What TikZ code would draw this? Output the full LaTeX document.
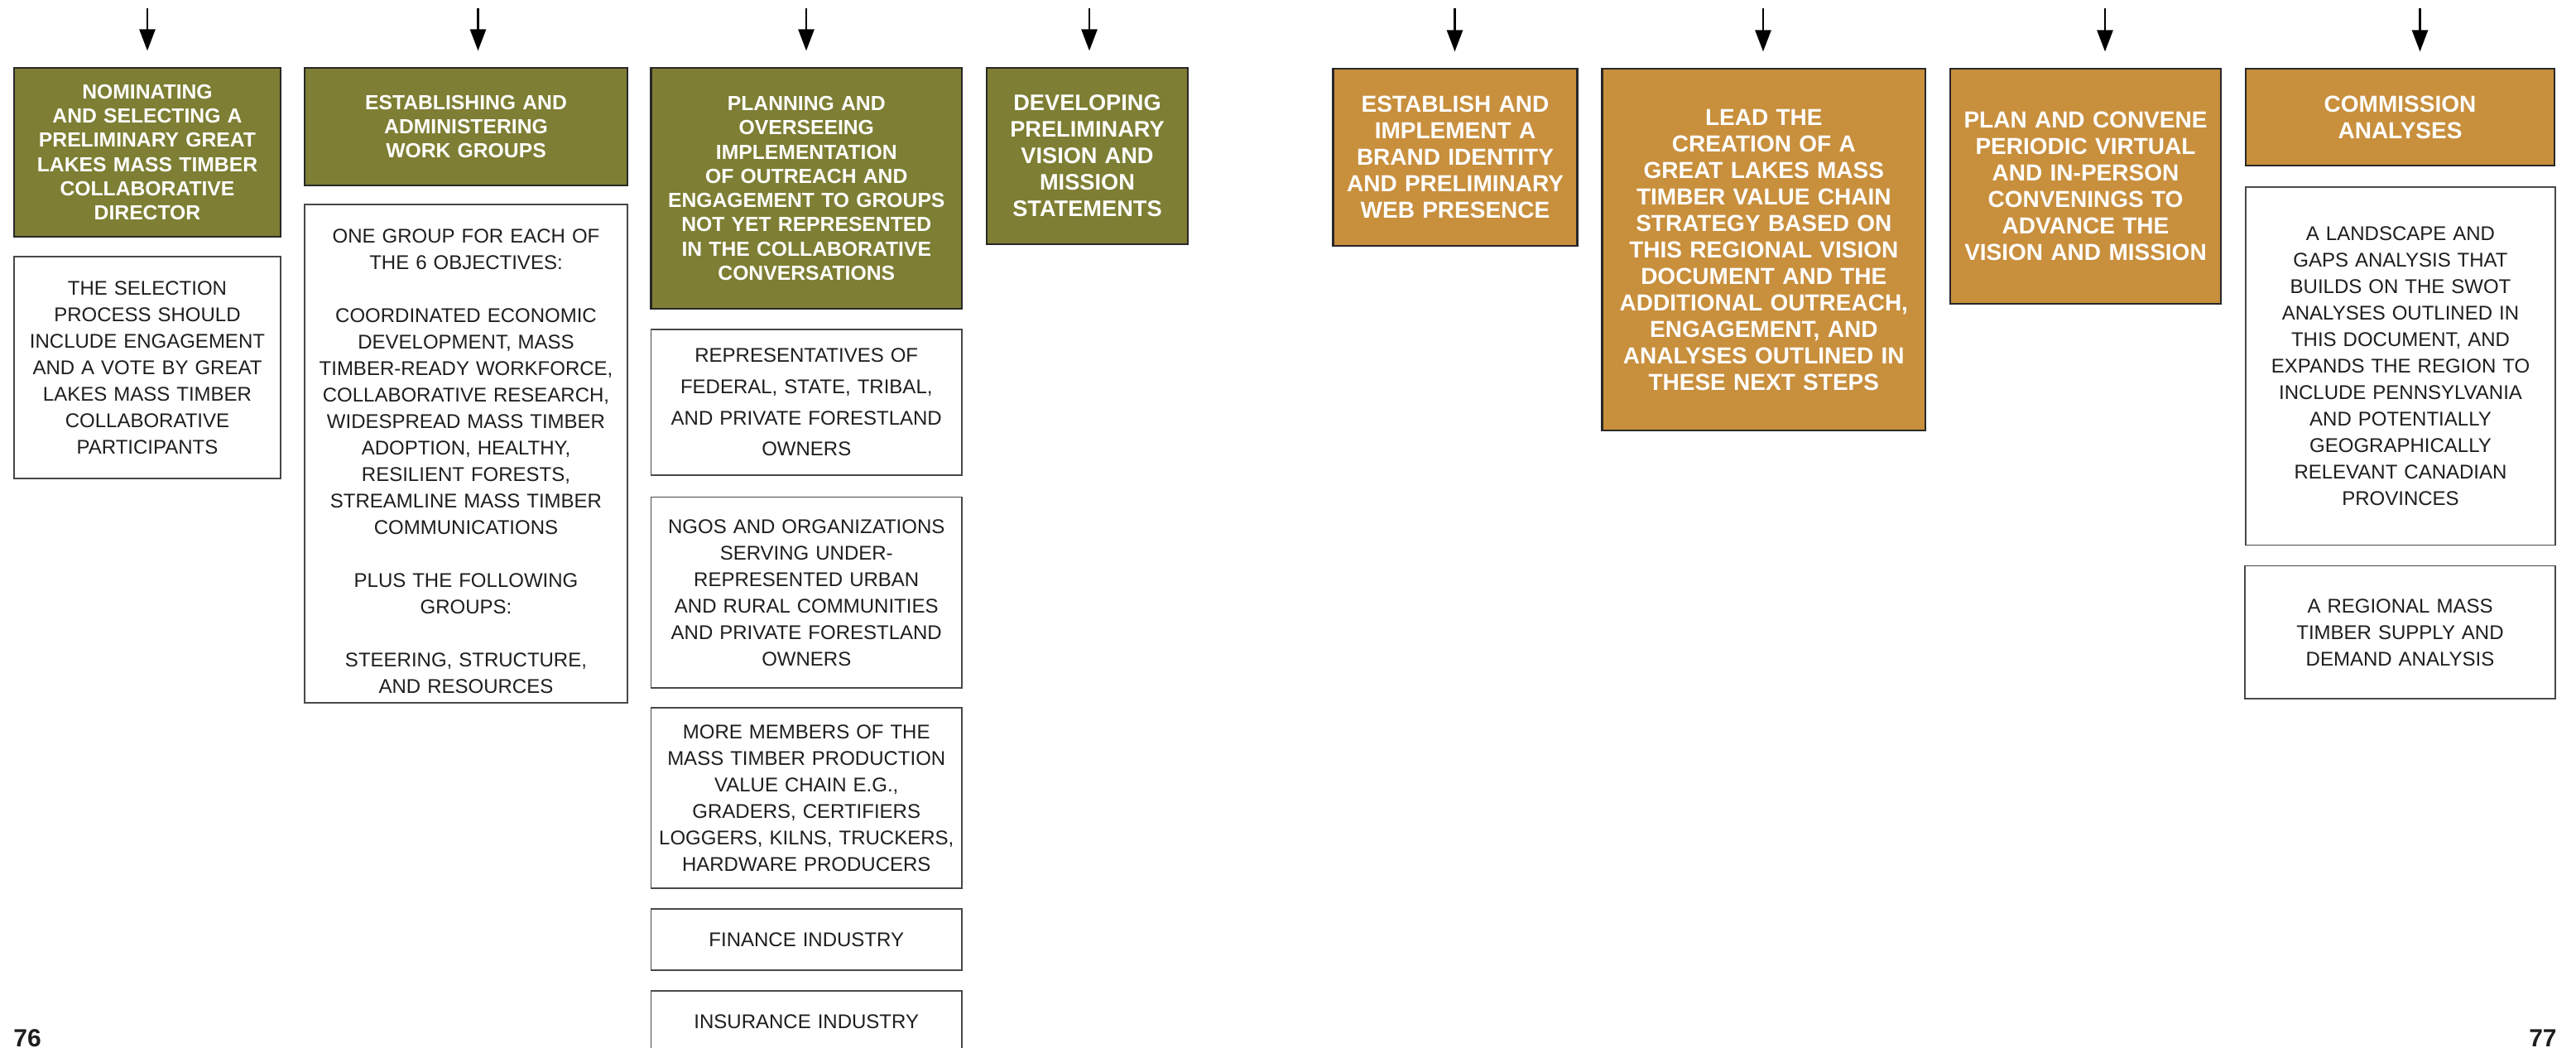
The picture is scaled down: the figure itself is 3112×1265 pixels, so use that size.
\documentclass[tikz,border=0pt]{standalone}
\usepackage{fontspec}
\setmainfont{Liberation Sans}
\usetikzlibrary{arrows.meta}
\definecolor{olivebox}{RGB}{126,126,52}
\definecolor{ochrebox}{RGB}{200,143,61}
\definecolor{edgecol}{RGB}{40,40,40}
\definecolor{txtcol}{RGB}{30,30,30}
\begin{document}
\begin{tikzpicture}[x=0.5pt,y=-0.5pt,
  gbox/.style={fill=olivebox, draw=edgecol, line width=1.15pt, text=white,
    font=\bfseries\fontsize{12.35pt}{14.65pt}\selectfont, align=center, inner sep=0pt},
  obox/.style={fill=ochrebox, draw=edgecol, line width=1.15pt, text=white,
    font=\bfseries\fontsize{14pt}{16pt}\selectfont, align=center, inner sep=0pt},
  wbox/.style={fill=white, draw=edgecol!85, line width=0.75pt, text=txtcol,
    font=\fontsize{12pt}{16pt}\selectfont, align=center, inner sep=0pt},
  flow/.style={line width=1.35pt, shorten >=9.75pt, -{Triangle[length=13pt,width=9.5pt]}},
  pagenum/.style={font=\bfseries\fontsize{15pt}{18pt}\selectfont, text=txtcol, inner sep=0pt}
]
\useasboundingbox (0,0) rectangle (3112,1265);

% ---------- left page: olive headers ----------
\node[gbox, minimum width=161pt, minimum height=102pt, text width=153pt] (g1) at (178,184)
  {NOMINATING\\AND SELECTING A\\PRELIMINARY GREAT\\LAKES MASS TIMBER\\COLLABORATIVE\\DIRECTOR};
\node[gbox, minimum width=195pt, minimum height=71pt, text width=187pt] (g2) at (563,153)
  {ESTABLISHING AND\\ADMINISTERING\\WORK GROUPS};
\node[gbox, minimum width=187.75pt, minimum height=145.5pt, text width=180pt] (g3) at (974.25,227.5)
  {PLANNING AND\\OVERSEEING\\IMPLEMENTATION\\OF OUTREACH AND\\ENGAGEMENT TO GROUPS\\NOT YET REPRESENTED\\IN THE COLLABORATIVE\\CONVERSATIONS};
\node[gbox, font=\bfseries\fontsize{13.6pt}{16pt}\selectfont, minimum width=121.5pt, minimum height=106.5pt, text width=115pt] (g4) at (1313.5,188.5)
  {DEVELOPING\\PRELIMINARY\\VISION AND\\MISSION\\STATEMENTS};

% ---------- left page: white detail boxes ----------
\node[wbox, minimum width=161pt, minimum height=134pt, text width=155pt] (w1) at (178,444)
  {THE SELECTION\\PROCESS SHOULD\\INCLUDE ENGAGEMENT\\AND A VOTE BY GREAT\\LAKES MASS TIMBER\\COLLABORATIVE\\PARTICIPANTS};
\node[wbox, minimum width=195pt, minimum height=301pt, text width=189pt] (w2) at (563,548)
  {\rule{0pt}{17.6pt}ONE GROUP FOR EACH OF\\THE 6 OBJECTIVES:\\[16pt]COORDINATED ECONOMIC\\DEVELOPMENT, MASS\\TIMBER-READY WORKFORCE,\\COLLABORATIVE RESEARCH,\\WIDESPREAD MASS TIMBER\\ADOPTION, HEALTHY,\\RESILIENT FORESTS,\\STREAMLINE MASS TIMBER\\COMMUNICATIONS\\[16pt]PLUS THE FOLLOWING\\GROUPS:\\[16pt]STEERING, STRUCTURE,\\AND RESOURCES};
\node[wbox, font=\fontsize{12pt}{18.8pt}\selectfont, minimum width=187.75pt, minimum height=88pt, text width=183pt] (w3a) at (974.25,486)
  {REPRESENTATIVES OF\\FEDERAL, STATE, TRIBAL,\\AND PRIVATE FORESTLAND\\OWNERS};
\node[wbox, minimum width=187.75pt, minimum height=115.25pt, text width=183pt] (w3b) at (974.25,715.75)
  {NGOS AND ORGANIZATIONS\\SERVING UNDER-\\REPRESENTED URBAN\\AND RURAL COMMUNITIES\\AND PRIVATE FORESTLAND\\OWNERS};
\node[wbox, minimum width=187.75pt, minimum height=109pt, text width=183pt] (w3c) at (974.25,964)
  {MORE MEMBERS OF THE\\MASS TIMBER PRODUCTION\\VALUE CHAIN E.G.,\\GRADERS, CERTIFIERS\\LOGGERS, KILNS, TRUCKERS,\\HARDWARE PRODUCERS};
\node[wbox, minimum width=187.75pt, minimum height=37pt, text width=183pt] (w3d) at (974.25,1135)
  {FINANCE INDUSTRY};
\node[wbox, minimum width=187.75pt, minimum height=37pt, text width=183pt] (w3e) at (974.25,1234)
  {INSURANCE INDUSTRY};

% ---------- right page: ochre headers ----------
\node[obox, minimum width=147.5pt, minimum height=107pt, text width=141pt] (o1) at (1758,190)
  {ESTABLISH AND\\IMPLEMENT A\\BRAND IDENTITY\\AND PRELIMINARY\\WEB PRESENCE};
\node[obox, minimum width=195.2pt, minimum height=218.5pt, text width=188pt] (o2) at (2130.8,301.5)
  {LEAD THE\\CREATION OF A\\GREAT LAKES MASS\\TIMBER VALUE CHAIN\\STRATEGY BASED ON\\THIS REGIONAL VISION\\DOCUMENT AND THE\\ADDITIONAL OUTREACH,\\ENGAGEMENT, AND\\ANALYSES OUTLINED IN\\THESE NEXT STEPS};
\node[obox, minimum width=163.5pt, minimum height=142pt, text width=158pt] (o3) at (2519.5,225)
  {PLAN AND CONVENE\\PERIODIC VIRTUAL\\AND IN-PERSON\\CONVENINGS TO\\ADVANCE THE\\VISION AND MISSION};
\node[obox, minimum width=186.5pt, minimum height=58.5pt, text width=180pt] (o4) at (2899.5,141.5)
  {COMMISSION\\ANALYSES};

% ---------- right page: white detail boxes ----------
\node[wbox, minimum width=187pt, minimum height=216.25pt, text width=181pt] (w4a) at (2900,442.25)
  {A LANDSCAPE AND\\GAPS ANALYSIS THAT\\BUILDS ON THE SWOT\\ANALYSES OUTLINED IN\\THIS DOCUMENT, AND\\EXPANDS THE REGION TO\\INCLUDE PENNSYLVANIA\\AND POTENTIALLY\\GEOGRAPHICALLY\\RELEVANT CANADIAN\\PROVINCES};
\node[wbox, minimum width=187.5pt, minimum height=80.25pt, text width=181pt] (w4b) at (2899.5,763.75)
  {A REGIONAL MASS\\TIMBER SUPPLY AND\\DEMAND ANALYSIS};

% ---------- incoming arrows ----------
\coordinate (a1) at (178,10);
\coordinate (a2) at (577.5,10);
\coordinate (a3) at (974,10);
\coordinate (a4) at (1316,10);
\coordinate (a5) at (1757.5,10);
\coordinate (a6) at (2130,10);
\coordinate (a7) at (2543,10);
\coordinate (a8) at (2923.5,10);
\draw[flow] (a1) -- (a1 |- g1.north);
\draw[flow] (a2) -- (a2 |- g2.north);
\draw[flow] (a3) -- (a3 |- g3.north);
\draw[flow] (a4) -- (a4 |- g4.north);
\draw[flow] (a5) -- (a5 |- o1.north);
\draw[flow] (a6) -- (a6 |- o2.north);
\draw[flow] (a7) -- (a7 |- o3.north);
\draw[flow] (a8) -- (a8 |- o4.north);

% ---------- page numbers ----------
\node[pagenum, anchor=base west] (p76) at (16,1264) {76};
\node[pagenum, anchor=base east] (p77) at (3089,1264) {77};
\end{tikzpicture}
\end{document}
